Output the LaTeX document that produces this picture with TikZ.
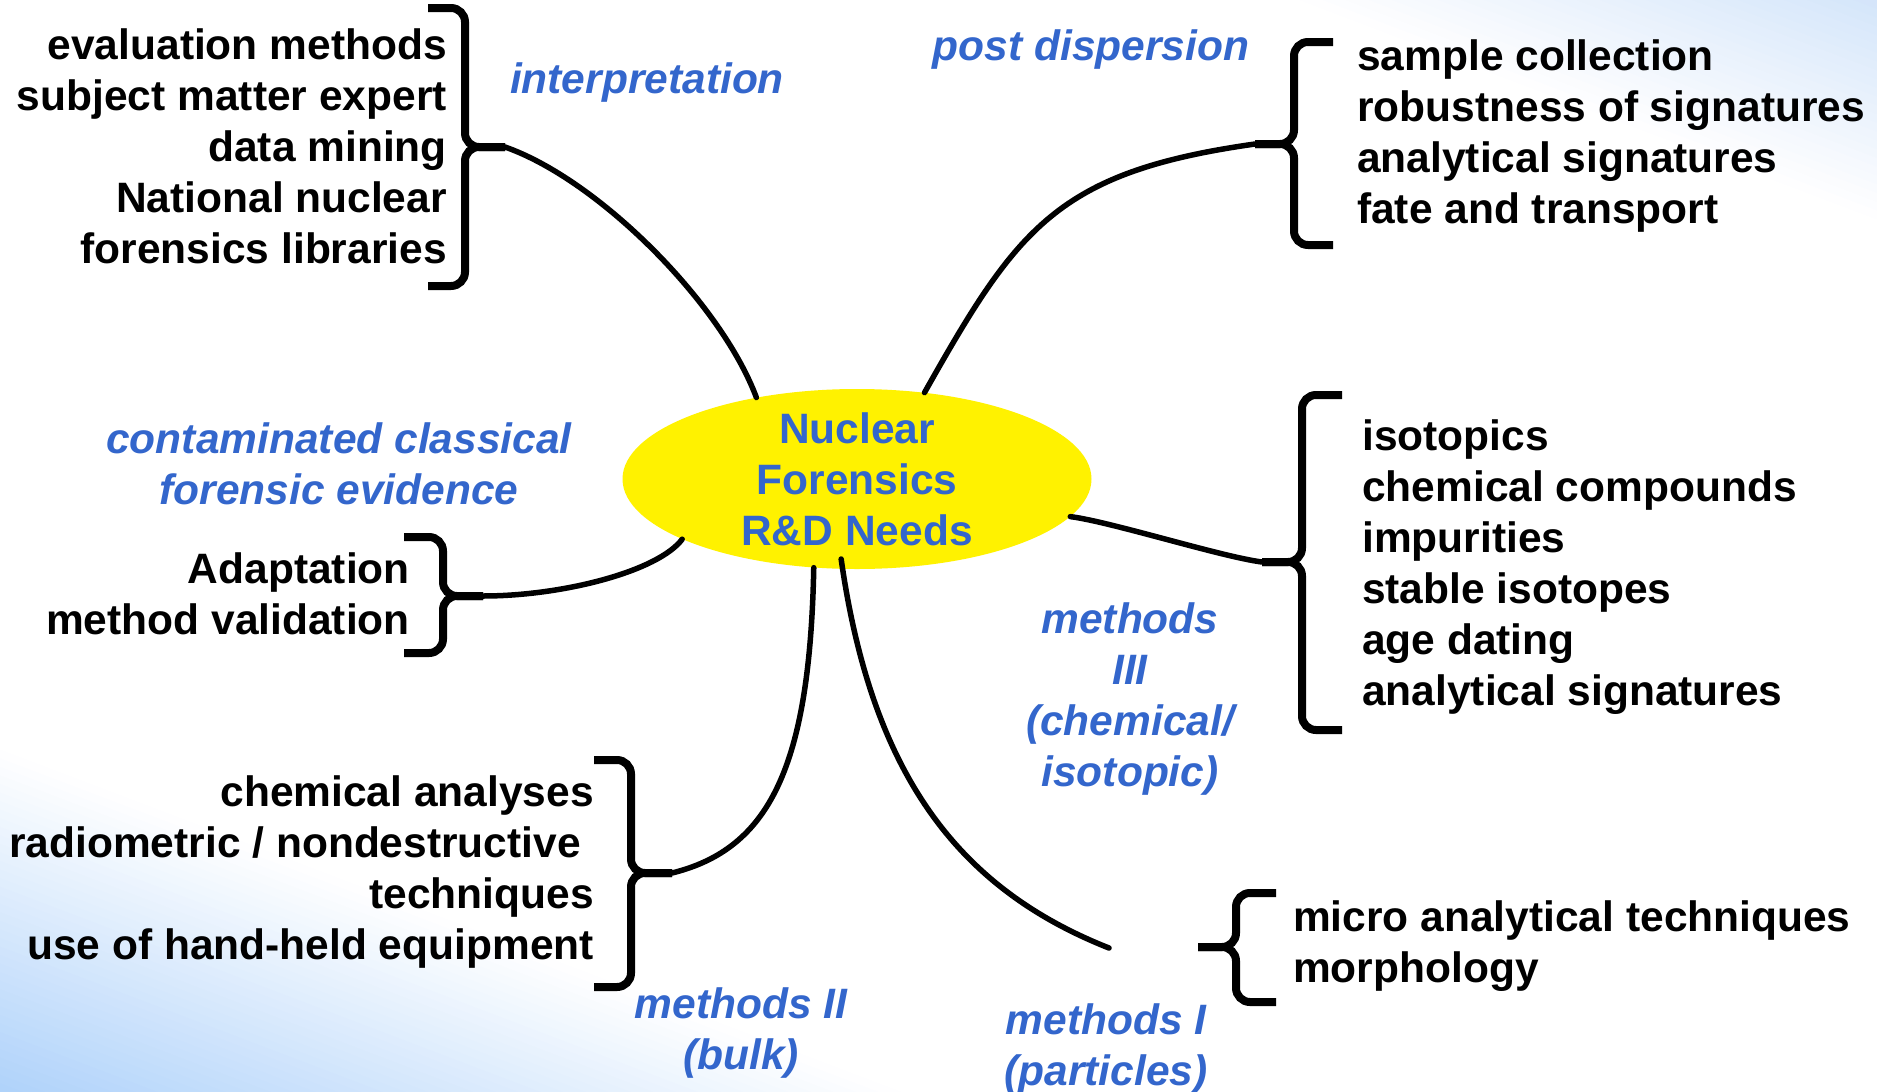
\documentclass[tikz,border=0pt]{standalone}
\usepackage{fontspec}
\setmainfont{Liberation Sans}
\usetikzlibrary{shapes.geometric}

\definecolor{topicblue}{RGB}{51,102,204}
\definecolor{fadeblue}{RGB}{175,210,250}
\definecolor{fadepale}{RGB}{212,229,250}

\begin{document}
\begin{tikzpicture}[x=1pt, y=-1pt,
  item/.style={font=\bfseries\fontsize{42.5}{51}\selectfont, inner sep=0pt},
  topic/.style={font=\bfseries\itshape\fontsize{42.5}{51}\selectfont, text=topicblue, align=center, inner sep=0pt},
  hub/.style={ellipse, fill=yellow, minimum width=469pt, minimum height=180pt, inner sep=0pt},
  twig/.style={line width=5.5pt, line cap=round},
  bracket/.style={line width=8pt, rounded corners=14pt}]
\useasboundingbox (0,0) rectangle (1877,1092);

% background fades
\begin{scope}
\clip (0,0) rectangle (1877,1092);
\fill[white] (0,0) rectangle (1877,1092);
\foreach \k in {0,...,39} {
  \pgfmathsetmacro{\ua}{750+\k*342/40}
  \pgfmathsetmacro{\ub}{\ua+342/40+1}
  \pgfmathsetmacro{\pct}{100*(\k+0.5)/40}
  \fill[fadeblue!\pct!white] (0,\ua) -- (1877,\ua+713) -- (1877,\ub+713) -- (0,\ub) -- cycle;
}
\foreach \k in {0,...,24} {
  \pgfmathsetmacro{\ua}{-494-\k*219/25}
  \pgfmathsetmacro{\ub}{\ua-219/25-1}
  \pgfmathsetmacro{\pct}{100*(\k+0.5)/25}
  \fill[fadepale!\pct!white] (0,\ua) -- (1877,\ua+713) -- (1877,\ub+713) -- (0,\ub) -- cycle;
}
\end{scope}

% centre
\node[hub] (core) at (857,479) {};

% brace tips
\coordinate (tipA) at (505,147);
\coordinate (tipB) at (1255,144);
\coordinate (tipC) at (1262,562);
\coordinate (tipD) at (483,596);
\coordinate (tipE) at (672,873);
\coordinate (tipF) at (1198,947);
\coordinate (endF) at (1109,948);

% braces
\draw[bracket] (428,8) -| (465,147) -- (tipA);
\draw[bracket] (428,286) -| (465,147) -- (tipA);
\draw[bracket] (1333,42) -| (1294,144) -- (tipB);
\draw[bracket] (1333,245) -| (1294,144) -- (tipB);
\draw[bracket] (1342,395) -| (1302,562) -- (tipC);
\draw[bracket] (1342,730) -| (1302,562) -- (tipC);
\draw[bracket] (404,537) -| (443,596) -- (tipD);
\draw[bracket] (404,653) -| (443,596) -- (tipD);
\draw[bracket] (594,760) -| (631,873) -- (tipE);
\draw[bracket] (594,987) -| (631,873) -- (tipE);
\draw[bracket] (1276,893) -| (1236,947) -- (tipF);
\draw[bracket] (1276,1002) -| (1236,947) -- (tipF);

% branches
\draw[twig] (core.141.8) .. controls +(-35,-94) and +(94,33) .. (tipA);
\draw[twig] (core.52) .. controls +(93,-165) and +(-198,28) .. (tipB);
\draw[twig] (core.-10.9) .. controls +(40,5) and +(-40,-5) .. (tipC);
\draw[twig] (core.199) .. controls +(-24,32) and +(80,0) .. (tipD);
\draw[twig] (core.244.7) .. controls +(-4,200) and +(97,-24) .. (tipE);
\draw[twig] ([yshift=10pt]core.260) .. controls +(31,218) and +(-149,-59) .. (endF);

\node[topic, font=\bfseries\fontsize{42.5}{51}\selectfont] (hubtext) at (core) {Nuclear\\Forensics\\R\&D Needs};

% lists
\node[item, align=right, anchor=east] (interlist) at (447,146)
  {evaluation methods\\subject matter expert\\data mining\\National nuclear\\forensics libraries};
\node[item, align=left, anchor=west] (postlist) at (1357,136)
  {sample collection\\robustness of signatures\\analytical signatures\\fate and transport};
\node[item, align=left, anchor=west] (chemlist) at (1362,567)
  {isotopics\\chemical compounds\\impurities\\stable isotopes\\age dating\\analytical signatures};
\node[item, align=right, anchor=east] (classlist) at (410,594)
  {Adaptation\\method validation};
\node[item, align=right, anchor=east] (bulklist) at (594,872)
  {chemical analyses\\radiometric / nondestructive\kern13pt\\techniques\\use of hand-held equipment};
\node[item, align=left, anchor=west] (partlist) at (1293,946)
  {micro analytical techniques\\morphology};

% topics
\node[topic] (interp) at (647,83) {interpretation};
\node[topic] (postdisp) at (1091,50) {post dispersion};
\node[topic] (classic) at (339,464) {contaminated classical\\forensic evidence};
\node[topic] (methIII) at (1130,699) {methods\\III\\(chemical/\\isotopic)};
\node[topic] (methII) at (741,1033) {methods II\\(bulk)};
\node[topic] (methI) at (1106,1049) {methods I\\(particles)};
\end{tikzpicture}
\end{document}
